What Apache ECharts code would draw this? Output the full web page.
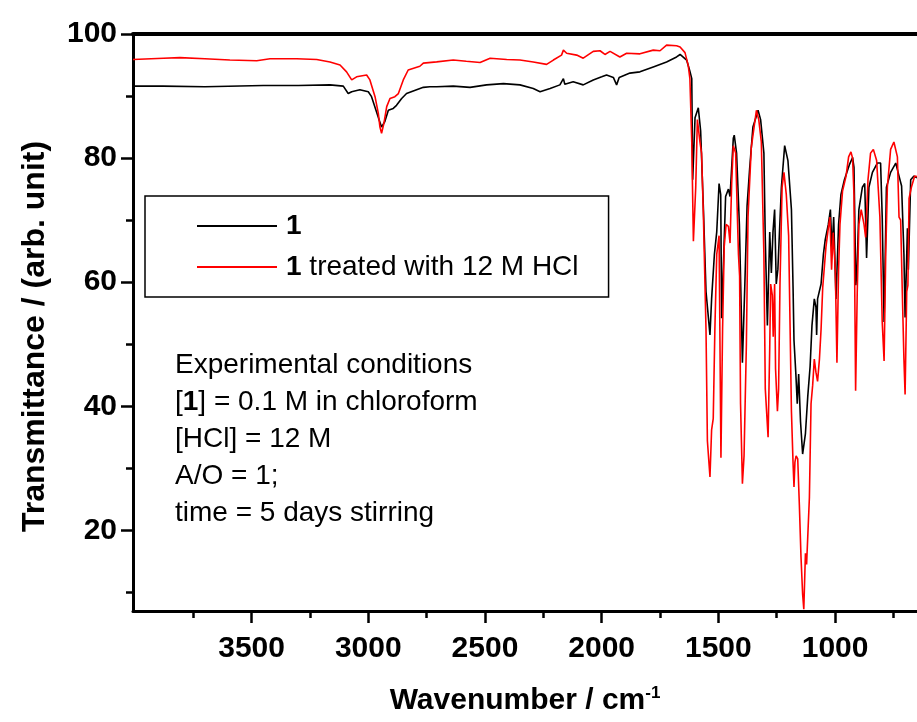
<!DOCTYPE html>
<html>
<head>
<meta charset="utf-8">
<title>IR spectra</title>
<script src="https://cdn.jsdelivr.net/npm/echarts@6/dist/echarts.min.js"></script>
<style>
  html, body { margin: 0; padding: 0; background: #fff; }
  #main { width: 917px; height: 722px; }
</style>
</head>
<body>
<div id="main"></div>
<script>
// wavenumber (cm-1), transmittance
const sampleOne = [
  [4008,91.6],[3880,91.6],[3700,91.5],[3450,91.7],[3300,91.7],[3164,91.8],[3107,91.6],[3086,90.4],
  [3071,90.7],[3036,91.0],[3000,90.7],[2986,89.9],[2967,87.7],[2953,86.1],[2943,85.0],[2929,85.9],
  [2914,87.7],[2893,88.0],[2879,88.5],[2857,89.6],[2836,90.4],[2793,91.0],[2764,91.4],[2736,91.5],
  [2707,91.5],[2636,91.6],[2564,91.4],[2493,91.8],[2421,92.0],[2350,91.8],[2293,91.2],[2264,90.7],
  [2221,91.2],[2179,91.8],[2164,92.8],[2158,91.9],[2122,92.3],[2079,91.8],[2036,92.6],[2000,93.1],
  [1979,93.4],[1950,93.0],[1936,91.8],[1925,93.0],[1879,93.7],[1836,93.9],[1779,94.7],[1722,95.5],
  [1679,96.3],[1664,96.7],[1636,95.8],[1622,94.0],[1614,92.8],[1610,76.5],[1600,86.5],[1586,88.1],
  [1576,84.4],[1564,71.7],[1553,58.5],[1536,51.5],[1529,57.3],[1517,64.5],[1507,68.1],[1497,75.9],
  [1490,74.1],[1486,54.2],[1479,62.1],[1469,73.8],[1457,75.0],[1450,73.8],[1436,83.2],[1432,83.7],
  [1422,80.8],[1410,69.3],[1397,47.0],[1387,59.1],[1377,72.3],[1366,78.3],[1352,85.0],[1337,86.8],
  [1330,87.7],[1319,86.2],[1305,80.8],[1299,66.9],[1290,53.0],[1280,68.1],[1273,61.5],[1266,68.1],
  [1259,71.7],[1252,59.7],[1245,62.1],[1230,75.3],[1216,82.0],[1209,81.7],[1202,79.6],[1187,71.7],
  [1180,59.1],[1176,50.6],[1168,45.2],[1162,40.4],[1156,45.2],[1148,37.5],[1139,32.3],[1133,32.2],
  [1127,35.6],[1117,41.6],[1107,46.4],[1099,53.0],[1089,57.3],[1082,56.0],[1079,51.5],[1075,57.3],
  [1060,59.7],[1050,64.5],[1042,66.9],[1029,69.3],[1020,71.7],[1013,65.1],[1006,70.5],[996,57.3],
  [985,69.3],[975,74.1],[960,76.5],[939,78.9],[925,80.1],[919,78.5],[911,59.5],[906,62.0],
  [898,71.7],[883,75.3],[873,75.9],[865,63.9],[855,75.3],[840,77.7],[819,79.2],[805,79.2],
  [798,70.5],[790,53.6],[780,75.3],[762,77.7],[740,79.2],[726,77.1],[715,75.5],[705,64.5],
  [700,54.3],[690,68.7],[686,62.0],[676,76.5],[662,77.1],[649,76.8]
];

const sampleHCl = [
  [4008,95.9],[3878,96.1],[3807,96.2],[3700,96.0],[3593,95.8],[3478,95.7],[3421,96.0],[3307,96.0],
  [3221,95.9],[3164,95.5],[3121,95.0],[3093,93.9],[3071,92.6],[3050,93.1],[3007,93.4],[2993,92.6],
  [2971,89.9],[2957,87.2],[2950,85.0],[2943,84.0],[2933,85.6],[2921,88.3],[2907,89.6],[2886,89.9],
  [2871,90.4],[2850,92.6],[2829,94.2],[2779,94.8],[2764,95.3],[2707,95.5],[2636,95.8],[2580,95.6],
  [2521,95.4],[2478,96.1],[2407,95.9],[2350,95.8],[2293,95.5],[2236,95.1],[2207,95.8],[2172,96.6],
  [2164,97.4],[2150,96.9],[2107,96.6],[2079,96.1],[2036,97.2],[2007,97.3],[1986,96.7],[1964,97.2],
  [1922,96.3],[1893,96.9],[1836,96.8],[1779,97.4],[1750,97.3],[1722,98.2],[1679,98.1],[1664,97.9],
  [1643,97.0],[1629,94.9],[1622,92.8],[1614,82.6],[1607,66.6],[1597,75.3],[1590,86.2],[1579,82.6],
  [1572,80.8],[1564,70.5],[1553,52.4],[1547,34.4],[1536,28.6],[1529,36.2],[1522,38.0],[1515,52.4],
  [1507,64.5],[1497,67.5],[1489,31.7],[1482,52.4],[1475,65.7],[1467,69.3],[1457,69.0],[1450,66.3],
  [1443,75.9],[1436,82.0],[1426,80.8],[1414,64.5],[1409,61.0],[1405,40.4],[1397,27.5],[1390,32.0],
  [1380,50.0],[1373,70.5],[1359,81.7],[1347,85.0],[1337,87.7],[1327,86.2],[1316,82.6],[1305,64.5],
  [1299,42.8],[1287,35.0],[1280,49.4],[1276,59.7],[1269,57.9],[1265,51.2],[1259,59.7],[1255,46.0],
  [1247,39.2],[1242,42.8],[1236,59.7],[1227,75.3],[1219,77.7],[1209,74.1],[1199,67.5],[1187,39.2],
  [1180,30.8],[1176,27.0],[1172,31.0],[1167,32.0],[1160,31.5],[1153,24.1],[1146,15.7],[1139,9.7],
  [1134,7.3],[1127,16.3],[1122,14.5],[1117,14.5],[1110,25.3],[1103,40.4],[1096,43.4],[1089,47.6],
  [1082,45.5],[1075,44.0],[1067,47.6],[1060,52.4],[1053,59.1],[1039,65.7],[1029,68.7],[1022,70.5],
  [1015,62.0],[1008,68.0],[999,62.0],[992,47.0],[985,62.0],[979,69.3],[968,74.7],[953,77.1],
  [942,80.2],[932,81.0],[925,80.0],[919,74.0],[912,42.5],[905,58.5],[898,69.3],[888,71.7],
  [876,69.3],[869,67.2],[859,76.5],[848,80.8],[836,81.4],[822,79.6],[808,70.5],[798,53.6],
  [790,47.3],[783,64.5],[776,75.3],[762,81.4],[748,82.6],[733,80.2],[726,70.5],[719,70.0],
  [712,58.5],[705,47.6],[700,41.9],[693,58.5],[688,59.5],[683,73.5],[673,75.3],[659,77.1],
  [649,77.0]
];

const xMajor = [1000, 1500, 2000, 2500, 3000, 3500];
const xMinor = [750, 1250, 1750, 2250, 2750, 3250, 3750];
const yMajor = [20, 40, 60, 80, 100];
const yMinor = [10, 30, 50, 70, 90];

const seriesNames = ['1', '1 treated with 12 M HCl'];
const noteLines = [
  'Experimental conditions',
  '[{b|1}] = 0.1 M in chloroform',
  '[HCl] = 12 M',
  'A/O = 1;',
  'time = 5 days stirring'
];

const FONT = '"Liberation Sans", Arial, sans-serif';
const chart = echarts.init(document.getElementById('main'));

const tickLabel = {
  fontFamily: FONT, fontSize: 30, fontWeight: 'bold', color: '#000',
  formatter: function (v) { return String(v); }
};

chart.setOption({
  animation: false,
  backgroundColor: '#fff',
  grid: { left: 133, right: 0, top: 34, bottom: 111, containLabel: false },
  legend: {
    left: 145, top: 196,
    orient: 'vertical',
    icon: 'rect',
    itemWidth: 80, itemHeight: 2,
    itemGap: 13,
    padding: [16, 30, 16, 52],
    borderColor: '#000', borderWidth: 1.5,
    data: seriesNames,
    formatter: function (name) {
      return name === '1' ? '{b|1}' : '{b|1}' + name.slice(1);
    },
    textStyle: {
      fontFamily: FONT, fontSize: 28, color: '#000', padding: [0, 0, 0, 4],
      rich: { b: { fontFamily: FONT, fontSize: 28, fontWeight: 'bold', color: '#000' } }
    }
  },
  xAxis: [
    {
      type: 'value', min: 649, max: 4008, inverse: true, position: 'bottom',
      name: 'Wavenumber / cm{sup|-1}', nameLocation: 'middle', nameGap: 74,
      nameTextStyle: {
        fontFamily: FONT, fontSize: 30, fontWeight: 'bold', color: '#000',
        rich: { sup: { fontFamily: FONT, fontSize: 17, fontWeight: 'bold', verticalAlign: 'top', padding: [0, 0, 14, 0] } }
      },
      axisLine: { lineStyle: { color: '#000', width: 3 } },
      axisTick: { customValues: xMajor, length: 12, lineStyle: { color: '#000', width: 2.5 } },
      axisLabel: Object.assign({ customValues: xMajor, margin: 23 }, tickLabel),
      splitLine: { show: false }
    },
    {
      type: 'value', min: 649, max: 4008, inverse: true, position: 'bottom',
      axisLine: { show: false },
      axisTick: { customValues: xMinor, length: 7, lineStyle: { color: '#000', width: 2.5 } },
      axisLabel: { show: false },
      splitLine: { show: false }
    },
    {
      type: 'value', min: 649, max: 4008, inverse: true, position: 'top',
      axisLine: { lineStyle: { color: '#000', width: 4 } },
      axisTick: { show: false }, axisLabel: { show: false }, splitLine: { show: false }
    }
  ],
  yAxis: [
    {
      type: 'value', min: 7, max: 100, position: 'left',
      name: 'Transmittance / (arb. unit)', nameLocation: 'middle', nameGap: 82,
      nameTextStyle: { fontFamily: FONT, fontSize: 32, fontWeight: 'bold', color: '#000', padding: [0, 28, 0, 0] },
      axisLine: { lineStyle: { color: '#000', width: 3 } },
      axisTick: { customValues: yMajor, length: 12, lineStyle: { color: '#000', width: 2.5 } },
      axisLabel: Object.assign({ customValues: yMajor, margin: 16 }, tickLabel),
      splitLine: { show: false }
    },
    {
      type: 'value', min: 7, max: 100, position: 'left',
      axisLine: { show: false },
      axisTick: { customValues: yMinor, length: 7, lineStyle: { color: '#000', width: 2.5 } },
      axisLabel: { show: false },
      splitLine: { show: false }
    }
  ],
  graphic: [
    {
      type: 'text', left: 175, top: 347,
      style: {
        text: noteLines.join('\n'),
        fontFamily: FONT, fontSize: 28, lineHeight: 37, fill: '#000',
        rich: { b: { fontFamily: FONT, fontSize: 28, fontWeight: 'bold', lineHeight: 37, fill: '#000' } }
      }
    }
  ],
  series: [
    {
      name: seriesNames[0], type: 'line', data: sampleOne,
      showSymbol: false, symbol: 'none', clip: true,
      lineStyle: { color: '#000', width: 1.6 }, itemStyle: { color: '#000' }
    },
    {
      name: seriesNames[1], type: 'line', data: sampleHCl,
      showSymbol: false, symbol: 'none', clip: true,
      lineStyle: { color: '#ff0000', width: 1.6 }, itemStyle: { color: '#ff0000' }
    }
  ]
});
</script>
</body>
</html>
